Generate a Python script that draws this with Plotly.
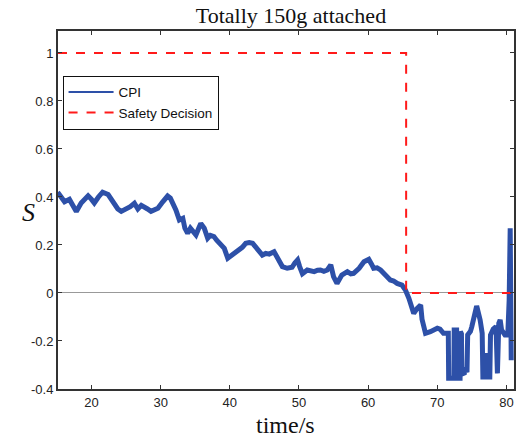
import plotly.graph_objects as go

# CPI series (time in s, value S)
cpi_t = [15.1, 15.5, 16.1, 16.8, 17.3, 17.8, 18.5, 19.0, 19.5, 20.0, 20.4, 21.0, 21.6, 22.4, 22.9,
         23.3, 23.8, 24.3, 25.0, 25.6, 26.2, 26.7, 27.2, 27.6, 28.1, 28.6, 29.1, 29.6, 30.3, 31.0,
         31.4, 31.7, 32.2, 32.7, 33.2, 33.5, 33.9, 34.3, 34.6, 35.1, 35.5, 35.8, 36.3, 36.8, 37.2,
         37.7, 38.1, 38.5, 39.2, 39.7, 40.4, 41.3, 41.8, 42.3, 42.8, 43.3, 44.0, 44.7, 45.2, 45.7,
         46.4, 46.9, 47.6, 48.3, 49.0, 49.4, 49.8, 50.1, 50.5, 51.2, 51.7, 52.2, 52.7, 53.1, 53.6,
         54.1, 54.6, 55.0, 55.5, 56.2, 57.0, 57.5, 57.9, 58.7, 59.4, 60.1, 60.5, 60.8, 61.3, 61.8,
         62.5, 63.2, 63.7, 64.2, 64.9, 65.4, 65.9, 66.3, 66.6, 67.1, 67.6, 67.8, 68.3, 69.0, 69.5,
         70.0, 70.4, 70.9, 71.6, 71.65, 72.4, 72.45, 72.8, 72.85, 73.3, 73.35, 73.5, 73.55, 73.9, 74.0,
         74.3, 74.4, 74.8, 75.0, 75.2, 75.7, 76.2, 76.5, 76.6, 76.9, 77.0, 77.2, 77.6, 77.7, 78.1,
         78.5, 78.7, 78.9, 79.1, 79.3, 79.8, 80.2, 80.4, 80.55, 80.7]
cpi_s = [0.42, 0.40, 0.38, 0.39, 0.36, 0.34, 0.375, 0.39, 0.405, 0.39, 0.375, 0.40, 0.42, 0.41, 0.385,
         0.367, 0.35, 0.34, 0.35, 0.36, 0.374, 0.35, 0.365, 0.36, 0.35, 0.34, 0.345, 0.353, 0.38, 0.404,
         0.395, 0.38, 0.346, 0.304, 0.311, 0.27, 0.249, 0.27, 0.262, 0.242, 0.27, 0.29, 0.27, 0.228, 0.24,
         0.235, 0.22, 0.207, 0.186, 0.145, 0.158, 0.179, 0.19, 0.207, 0.21, 0.207, 0.186, 0.158, 0.165, 0.162,
         0.172, 0.145, 0.11, 0.103, 0.107, 0.125, 0.1375, 0.11, 0.08, 0.096, 0.09, 0.089, 0.095, 0.096, 0.09,
         0.096, 0.117, 0.068, 0.04, 0.075, 0.089, 0.08, 0.082, 0.103, 0.13, 0.14, 0.12, 0.103, 0.105, 0.096,
         0.075, 0.054, 0.05, 0.04, 0.033, 0.012, -0.022, -0.06, -0.085, -0.064, -0.05, -0.11, -0.168, -0.161, -0.155,
         -0.147, -0.151, -0.168, -0.168, -0.355, -0.355, -0.154, -0.154, -0.355, -0.355, -0.161, -0.17, -0.33, -0.34, -0.31,
         -0.33, -0.175, -0.16, -0.14, -0.11, -0.054, -0.112, -0.168, -0.35, -0.35, -0.25, -0.35, -0.35, -0.175, -0.15,
         -0.14, -0.335, -0.126, -0.112, -0.154, -0.175, -0.175, -0.03, 0.27, -0.28]

# Safety decision step
safe_t = [15.15, 65.5, 65.5, 81.1]
safe_s = [1, 1, 0, 0]

x_ticks = [20, 30, 40, 50, 60, 70, 80]
y_ticks = [-0.4, -0.2, 0, 0.2, 0.4, 0.6, 0.8, 1]
y_tick_labels = ["-0.4", "-0.2", "0", "0.2", "0.4", "0.6", "0.8", "1"]

BLUE = "#2D50A8"
RED = "#FF1A1A"

fig = go.Figure()
fig.add_trace(go.Scatter(x=cpi_t, y=cpi_s, mode="lines", name="CPI", showlegend=False,
                         line=dict(color=BLUE, width=5)))
fig.add_trace(go.Scatter(x=safe_t, y=safe_s, mode="lines", name="Safety Decision", showlegend=False,
                         line=dict(color=RED, width=2, dash="dash")))
# legend entries (thin samples like the reference)
fig.add_trace(go.Scatter(x=[None], y=[None], mode="lines", name="CPI",
                         line=dict(color=BLUE, width=2)))
fig.add_trace(go.Scatter(x=[None], y=[None], mode="lines", name="Safety Decision",
                         line=dict(color=RED, width=2, dash="dash")))

fig.update_layout(
    width=522, height=437,
    margin=dict(l=58, r=8, t=31, b=48, autoexpand=False),
    paper_bgcolor="white", plot_bgcolor="white",
    title=dict(text="Totally 150g attached", x=291 / 522, xanchor="center",
               y=1 - 15 / 437, yanchor="middle",
               font=dict(family="Liberation Serif", size=22, color="#111")),
    font=dict(family="Liberation Sans", size=13, color="#222"),
    legend=dict(x=0.01, y=0.875, xanchor="left", yanchor="top",
                bgcolor="white", bordercolor="#111", borderwidth=1,
                itemwidth=45,
                font=dict(family="Liberation Sans", size=13.5, color="#111"),
                tracegroupgap=0),
    showlegend=True,
)
fig.update_xaxes(range=[15.15, 81.1], tickvals=x_ticks, ticks="inside", ticklen=4,
                 tickcolor="#333", showline=True, linecolor="#333", linewidth=2,
                 mirror="ticks", showgrid=False, zeroline=False, automargin=False,
                 tickfont=dict(family="Liberation Sans", size=13, color="#222"))
fig.update_yaxes(range=[-0.4, 1.0915], tickvals=y_ticks, ticktext=y_tick_labels,
                 ticks="inside", ticklen=4, tickcolor="#333", showline=True,
                 linecolor="#333", linewidth=2, mirror="ticks", showgrid=False,
                 zeroline=True, zerolinecolor="#999", zerolinewidth=1, automargin=False,
                 tickfont=dict(family="Liberation Sans", size=13, color="#222"))
fig.add_annotation(text="<i>S</i>", xref="paper", yref="paper",
                   x=(20 - 58) / 456, y=(389.3 - 213) / 358.3, showarrow=False,
                   font=dict(family="Liberation Serif", size=26, color="#111"))
fig.add_annotation(text="time/s", xref="paper", yref="paper",
                   x=(285 - 58) / 456, y=-(425 - 389.3) / 358.3, yanchor="middle",
                   showarrow=False,
                   font=dict(family="Liberation Serif", size=24, color="#111"))

fig.write_html("out.html", config={"displayModeBar": False},
               post_script="document.body.style.margin='0';document.body.style.overflow='hidden';")
